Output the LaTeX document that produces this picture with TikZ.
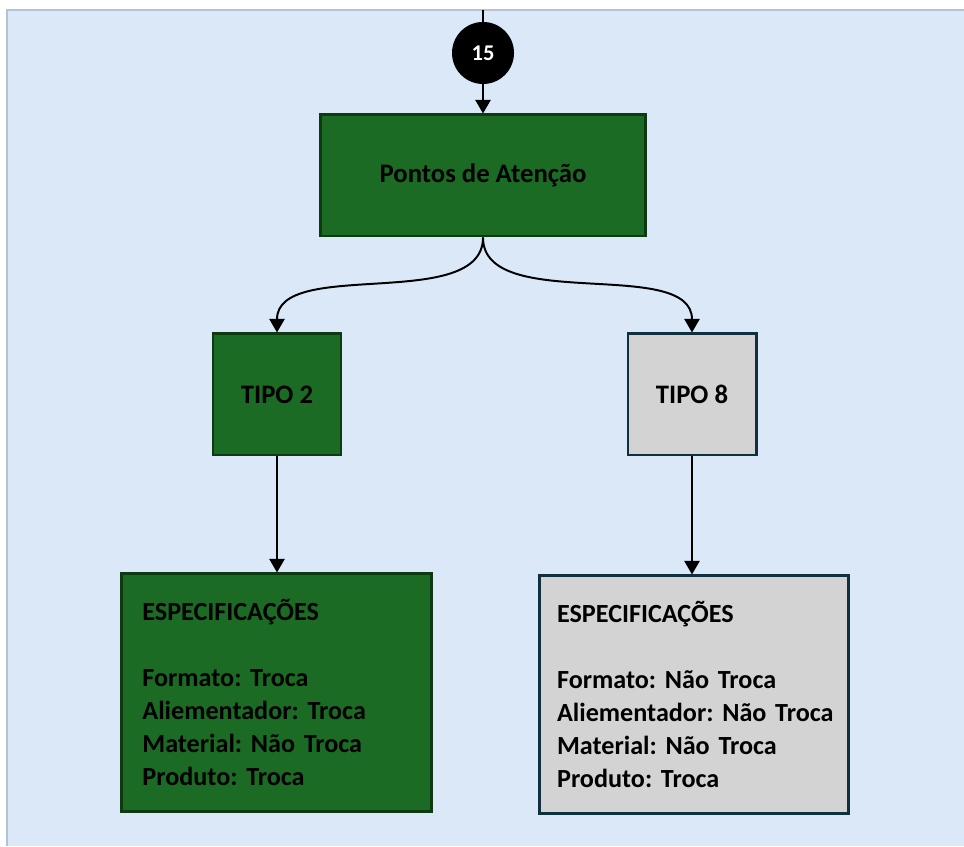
\documentclass[tikz,border=0pt]{standalone}
\usepackage{fontspec}
\setmainfont{Carlito}
\usetikzlibrary{arrows.meta,positioning}
\definecolor{bgblue}{HTML}{DAE8F7}
\definecolor{bgedge}{HTML}{B4C3D3}
\definecolor{boxgreen}{HTML}{1B6B25}
\definecolor{greenedge}{HTML}{0E3A12}
\definecolor{boxgray}{HTML}{D3D3D3}
\definecolor{grayedge}{HTML}{10303F}
\frenchspacing

\begin{document}
\begin{tikzpicture}[x=0.025cm, y=0.025cm,
  box/.style={rectangle, draw, line width=2.1pt, align=center, font=\fontsize{19}{23.5}\selectfont\bfseries},
  greenbox/.style={box, fill=boxgreen, draw=greenedge},
  graybox/.style={box, fill=boxgray, draw=grayedge},
  specbox/.style={minimum width=7.725cm, minimum height=5.925cm, text width=7.125cm, inner xsep=0.3cm, align=left, font=\fontsize{18.6}{23.5}\selectfont\bfseries},
  trans/.style={-{Triangle[length=3.4mm, width=3.8mm]}, line width=1.4pt},
]
  \useasboundingbox (0,0) rectangle (964,846);
  \fill[bgblue] (7,0) rectangle (964,836);
  \draw[bgedge, line width=0.8pt] (7,0) -- (7,836) -- (964,836);

  \coordinate (topin) at (483,836);
  \node[circle, fill=black, minimum size=1.55cm, inner sep=0pt, text=white, font=\fontsize{16}{18}\selectfont\bfseries] (num) at (483,793) {15};
  \node[greenbox, minimum width=8.1cm, minimum height=3.025cm] (pontos) at (483,670.5) {Pontos de Atenção};
  \node[greenbox, minimum width=3.2cm, minimum height=3.025cm] (tipo2) at (277,451.5) {TIPO 2};
  \node[graybox, minimum width=3.2cm, minimum height=3.025cm] (tipo8) at (692,451.5) {TIPO 8};
  \node[greenbox, specbox] (spec2) at (276.5,153.5) {\mbox{\hspace*{6pt}ESPECIFICAÇÕES}\\[23.5pt]\mbox{\hspace*{6pt}Formato: Troca}\\\mbox{\hspace*{6pt}Aliementador: Troca}\\\mbox{\hspace*{6pt}Material: Não Troca}\\\mbox{\hspace*{6pt}Produto: Troca}};
  \node[graybox, specbox] (spec8) at (694,151.5) {\mbox{\hspace*{4pt}ESPECIFICAÇÕES}\\[23.5pt]\mbox{\hspace*{4pt}Formato: Não Troca}\\\mbox{\hspace*{4pt}Aliementador: Não Troca}\\\mbox{\hspace*{4pt}Material: Não Troca}\\\mbox{\hspace*{4pt}Produto: Troca}};

  \draw[line width=1.4pt] (topin) -- (num);
  \draw[trans] (num) -- (pontos);
  \draw[trans] (pontos.south) to[out=-90, in=90, looseness=0.85] (tipo2.north);
  \draw[trans] (pontos.south) to[out=-90, in=90, looseness=0.85] (tipo8.north);
  \draw[trans] (tipo2) -- (tipo2 |- spec2.north);
  \draw[trans] (tipo8) -- (tipo8 |- spec8.north);
\end{tikzpicture}
\end{document}
